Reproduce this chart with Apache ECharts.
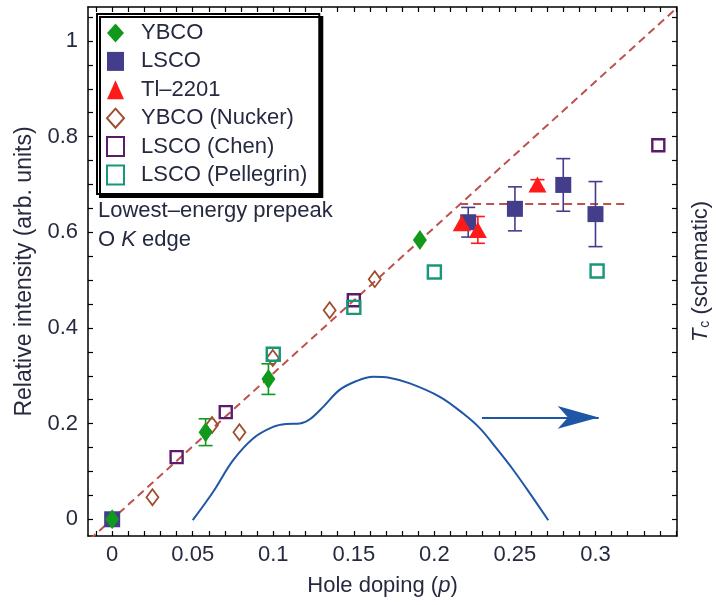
<!DOCTYPE html>
<html><head><meta charset="utf-8">
<script src="https://cdn.jsdelivr.net/npm/echarts@6/dist/echarts.min.js"></script>
<style>html,body{margin:0;padding:0;background:#fff}#c{width:716px;height:605px}</style>
</head><body><div id="c"></div>
<script>
// ---- data ----
const ybco      = [[0,0],[0.058,0.182],[0.097,0.293],[0.191,0.584]];
const ybcoErr   = [0.012,0.028,0.032,0];
const lsco      = [[0,0],[0.221,0.621],[0.250,0.649],[0.280,0.699],[0.300,0.638]];
const lscoErr   = [0,0.031,0.046,0.055,0.068];
const tl2201    = [[0.217,0.619],[0.227,0.605],[0.264,0.700]];
const tlErr     = [0,0.028,0.010];
const nucker    = [[0.025,0.046],[0.062,0.197],[0.079,0.182],[0.0997,0.337],[0.135,0.437],[0.163,0.502]];
const chen      = [[0.040,0.130],[0.0705,0.224],[0.150,0.458],[0.339,0.782]];
const pellegrin = [[0.100,0.345],[0.150,0.443],[0.200,0.517],[0.301,0.519]];
const fitLine   = [[-0.02,-0.061],[0.36,1.098]];
const plateau   = [[0.216,0.659],[0.318,0.659]];
const tcCurve   = [[0.050,-0.002],[0.0626,0.057],[0.075,0.123],[0.0875,0.169],[0.0999,0.193],[0.108,0.199],
                   [0.1165,0.200],[0.1227,0.209],[0.131,0.235],[0.141,0.270],[0.1517,0.289],[0.162,0.298],
                   [0.172,0.296],[0.1848,0.284],[0.2034,0.256],[0.2179,0.221],[0.2283,0.190],[0.2386,0.148],
                   [0.249,0.103],[0.2593,0.054],[0.2707,-0.002]];
const tcArrow   = [[0.2295,0.213],[0.302,0.213]];
const xTickLabels = [0,0.05,0.1,0.15,0.2,0.25,0.3];
const xTicks = [-0.01,0,0.01,0.02,0.03,0.04,0.05,0.06,0.07,0.08,0.09,0.1,0.11,0.12,0.13,0.14,0.15,0.16,0.17,0.18,0.19,0.2,0.21,0.22,0.23,0.24,0.25,0.26,0.27,0.28,0.29,0.3,0.31,0.32,0.33,0.34,0.35];
const yTickLabels = [0,0.2,0.4,0.6,0.8,1];
const yTicks = [0,0.05,0.1,0.15,0.2,0.25,0.3,0.35,0.4,0.45,0.5,0.55,0.6,0.65,0.7,0.75,0.8,0.85,0.9,0.95,1,1.05];

const C = {ybco:'#11991b', lsco:'#433d8c', tl:'#ff1a1a', nucker:'#9e4e2c', chen:'#5b1b6b', pell:'#17977a',
           dash:'#c0504d', tc:'#1f56a6', text:'#262a40'};
const FONT = 'Liberation Sans';
const FS = 22;

function errSeries(name, pts, errs, color){
  return {type:'custom', name:name, silent:true, z:3, clip:false,
    data: pts.map((p,i)=>[p[0],p[1],errs[i]]).filter(d=>d[2]>0),
    renderItem:function(params, api){
      const x=api.value(0), y=api.value(1), e=api.value(2);
      const t=api.coord([x,y+e]), b=api.coord([x,y-e]); const w=7;
      const st={stroke:color,lineWidth:1.6};
      return {type:'group', children:[
        {type:'line', shape:{x1:t[0],y1:t[1],x2:b[0],y2:b[1]}, style:st},
        {type:'line', shape:{x1:t[0]-w,y1:t[1],x2:t[0]+w,y2:t[1]}, style:st},
        {type:'line', shape:{x1:b[0]-w,y1:b[1],x2:b[0]+w,y2:b[1]}, style:st}
      ]};
    }};
}

const axisLineStyle = {color:'#000', width:1.5};
const tickStyle = {color:'#000', width:1.2};
const option = {
  animation:false,
  backgroundColor:'#fff',
  textStyle:{fontFamily:FONT},
  grid:{left:88, right:39, top:7, bottom:69, outerBoundsMode:'none', containLabel:false},
  legend:{
    orient:'vertical', left:97, top:14, padding:[8,12,8,9],
    itemWidth:17, itemHeight:19, itemGap:6.4,
    backgroundColor:'#fff', borderColor:'#000', borderWidth:2,
    shadowColor:'#000', shadowBlur:0, shadowOffsetX:3, shadowOffsetY:3,
    textStyle:{fontSize:FS, color:C.text, fontFamily:FONT, lineHeight:22, padding:[0,0,0,12]},
    data:[
      {name:'YBCO', icon:'diamond', itemStyle:{color:C.ybco, borderWidth:0, opacity:1}},
      {name:'LSCO', icon:'rect', itemStyle:{color:C.lsco, borderWidth:0, opacity:1}},
      {name:'Tl–2201', icon:'triangle', itemStyle:{color:C.tl, borderWidth:0, opacity:1}},
      {name:'YBCO (Nucker)', icon:'diamond', itemStyle:{color:'#fff', borderColor:C.nucker, borderWidth:2, opacity:1}},
      {name:'LSCO (Chen)', icon:'rect', itemStyle:{color:'#fff', borderColor:C.chen, borderWidth:2, opacity:1}},
      {name:'LSCO (Pellegrin)', icon:'rect', itemStyle:{color:'#fff', borderColor:C.pell, borderWidth:2, opacity:1}}
    ]
  },
  graphic:[
    {type:'text', left:98, top:200, z:10, style:{text:'Lowest–energy prepeak', fontSize:FS, fontFamily:FONT, fill:C.text}},
    {type:'text', left:98, top:229, z:10, style:{text:'O {i|K} edge', fontSize:FS, fontFamily:FONT, fill:C.text,
      rich:{i:{fontStyle:'italic', fontSize:FS, fontFamily:FONT, fill:C.text}}}}
  ],
  xAxis:[
    {type:'value', min:-0.015, max:0.3506, position:'bottom',
     name:'Hole doping ({i|p})', nameLocation:'middle', nameGap:39,
     nameTextStyle:{fontSize:FS, color:C.text, fontFamily:FONT, rich:{i:{fontStyle:'italic', fontSize:FS, color:C.text}}},
     axisLine:{show:true, onZero:false, lineStyle:axisLineStyle},
     axisTick:{show:true, inside:true, length:5, customValues:xTicks, lineStyle:tickStyle},
     axisLabel:{customValues:xTickLabels, fontSize:FS, color:C.text, margin:8, fontFamily:FONT},
     splitLine:{show:false}},
    {type:'value', min:-0.015, max:0.3506, position:'top',
     axisLine:{show:true, onZero:false, lineStyle:axisLineStyle},
     axisTick:{show:true, inside:true, length:5, customValues:xTicks, lineStyle:tickStyle},
     axisLabel:{show:false}, splitLine:{show:false}}
  ],
  yAxis:[
    {type:'value', min:-0.035, max:1.071, position:'left',
     name:'Relative intensity (arb. units)', nameLocation:'middle', nameGap:52,
     nameTextStyle:{fontSize:23, color:C.text, fontFamily:FONT},
     axisLine:{show:true, onZero:false, lineStyle:axisLineStyle},
     axisTick:{show:true, inside:true, length:5, customValues:yTicks, lineStyle:tickStyle},
     axisLabel:{customValues:yTickLabels, fontSize:FS, color:C.text, margin:10, fontFamily:FONT},
     splitLine:{show:false}},
    {type:'value', min:-0.035, max:1.071, position:'right',
     name:'{i|T}{s|c} (schematic)', nameLocation:'middle', nameGap:12, nameRotate:90,
     nameTextStyle:{fontSize:FS, color:C.text, fontFamily:FONT, verticalAlign:'top',
       rich:{i:{fontStyle:'italic', fontSize:FS, color:C.text}, s:{fontSize:14, color:C.text, padding:[9,0,0,1]}}},
     axisLine:{show:true, onZero:false, lineStyle:axisLineStyle},
     axisTick:{show:true, inside:true, length:5, customValues:yTicks, lineStyle:tickStyle},
     axisLabel:{show:false}, splitLine:{show:false}}
  ],
  series:[
    {type:'line', name:'fit', data:fitLine, showSymbol:false, symbol:'none', silent:true, z:1,
     lineStyle:{color:C.dash, width:2, type:[8,5]}},
    {type:'line', name:'plateau', data:plateau, showSymbol:false, symbol:'none', silent:true, z:1,
     lineStyle:{color:C.dash, width:2, type:[8,5]}},
    {type:'line', name:'Tc', yAxisIndex:1, data:tcCurve, showSymbol:false, symbol:'none', smooth:0.35, silent:true, z:1,
     lineStyle:{color:C.tc, width:2},
     markLine:{silent:true, symbol:['none','arrow'], symbolSize:[17,41], label:{show:false},
       lineStyle:{color:C.tc, width:2, type:'solid'},
       data:[[{coord:tcArrow[0]},{coord:tcArrow[1]}]]}},
    {type:'scatter', name:'YBCO (Nucker)', data:nucker, symbol:'diamond', symbolSize:[12,16], z:4,
     itemStyle:{color:'rgba(255,255,255,0)', borderColor:C.nucker, borderWidth:1.8, opacity:1}},
    {type:'scatter', name:'LSCO (Chen)', data:chen, symbol:'rect', symbolSize:12, z:4,
     itemStyle:{color:'rgba(255,255,255,0)', borderColor:C.chen, borderWidth:2.4, opacity:1}},
    {type:'scatter', name:'LSCO (Pellegrin)', data:pellegrin, symbol:'rect', symbolSize:13, z:4,
     itemStyle:{color:'rgba(255,255,255,0)', borderColor:C.pell, borderWidth:2.4, opacity:1}},
    errSeries('LSCO err', lsco, lscoErr, C.lsco),
    {type:'scatter', name:'LSCO', data:lsco, symbol:'rect', symbolSize:16, z:5, itemStyle:{color:C.lsco, opacity:1}},
    errSeries('Tl err', tl2201, tlErr, C.tl),
    {type:'scatter', name:'Tl–2201', data:tl2201, symbol:'triangle', symbolSize:[18,16], z:5, itemStyle:{color:C.tl, opacity:1}},
    errSeries('YBCO err', ybco, ybcoErr, C.ybco),
    {type:'scatter', name:'YBCO', data:ybco, symbol:'diamond', symbolSize:[14,20], z:6, itemStyle:{color:C.ybco, opacity:1}}
  ]
};
const chart = echarts.init(document.getElementById('c'), null, {renderer:'canvas'});
chart.setOption(option);
</script></body></html>
